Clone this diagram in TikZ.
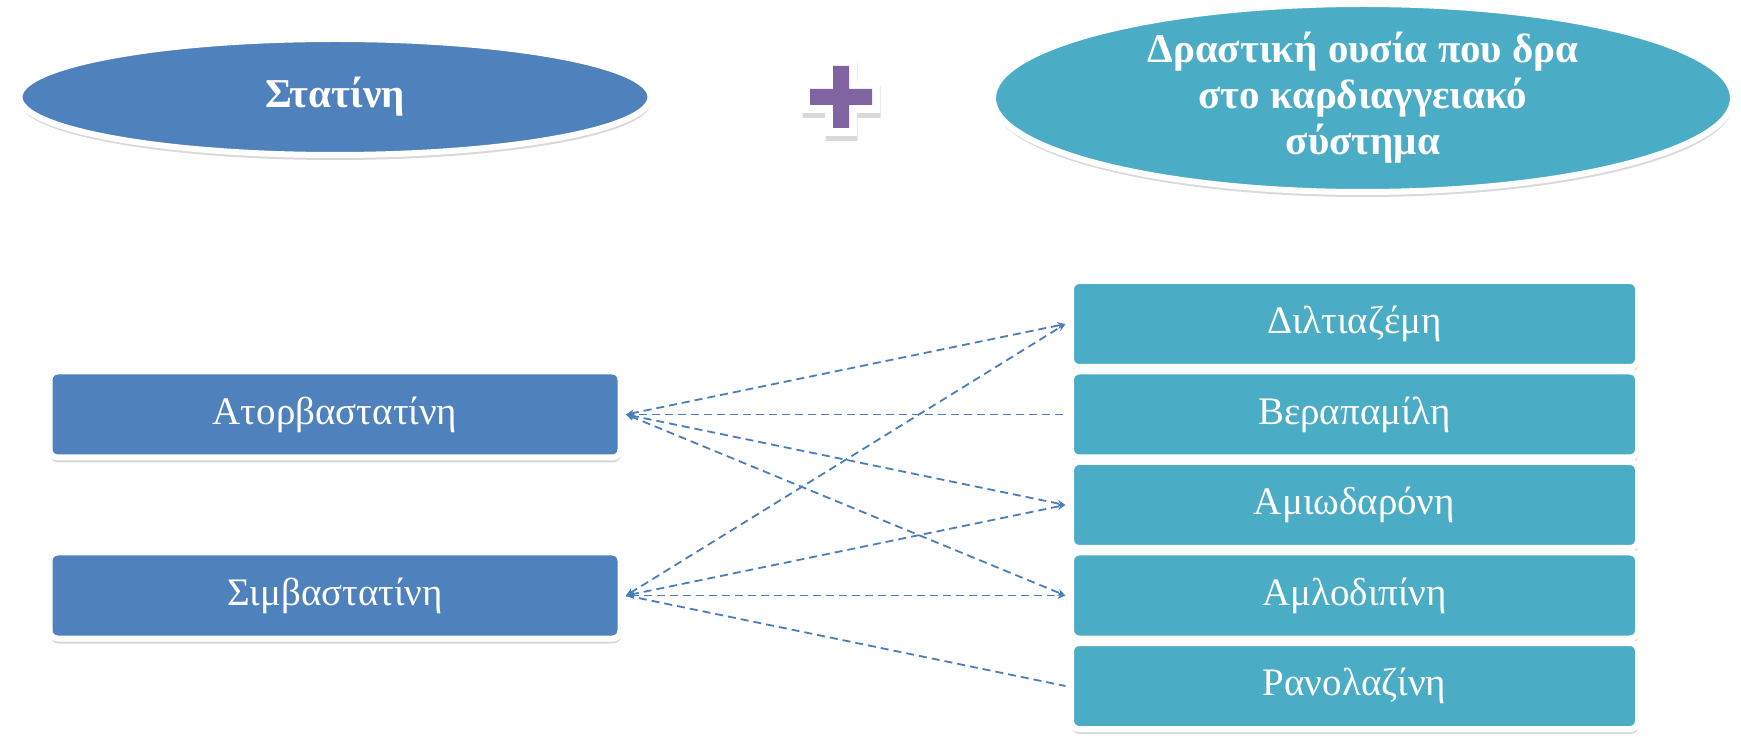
\documentclass[tikz,border=0pt]{standalone}
\usepackage{fontspec}
\setmainfont{Liberation Serif}
\usetikzlibrary{positioning,shapes.geometric,shadows,arrows.meta}
\definecolor{statblue}{HTML}{4F81BD}
\definecolor{drugteal}{HTML}{4BACC6}
\definecolor{plusviolet}{HTML}{8064A2}
\definecolor{linkblue}{HTML}{4A7EBB}

\begin{document}
\begin{tikzpicture}[x=0.5pt, y=-0.5pt, node distance=45.25pt, on grid]
\tikzstyle{every node}=[font=\fontsize{19.5}{23}\selectfont, text=white]
\tikzstyle{soft shadow}=[drop shadow={shadow xshift=0.3pt, shadow yshift=-2.5pt, opacity=0.3}]
\tikzstyle{oval}=[ellipse, draw=white, line width=3pt, inner sep=0pt, align=center, font=\fontsize{20.5}{23}\selectfont\bfseries, soft shadow]
\tikzstyle{box}=[rectangle, rounded corners=4pt, draw=white, line width=3pt, outer sep=2.8pt, minimum height=43pt, soft shadow]
\tikzstyle{link}=[linkblue, dash pattern=on 4pt off 2.5pt, line width=0.9pt, {Stealth[length=4pt,width=3.5pt]}-{Stealth[length=4pt,width=3.5pt]}]
\useasboundingbox (0,0) rectangle (1741,737);
   \node[oval, fill=statblue, minimum width=315.5pt, minimum height=58pt](stat) at (335,97){Στατίνη};
   \node[oval, fill=drugteal, minimum width=370pt, minimum height=94pt](drug) at (1363,98){Δραστική ουσία που δρα\\στο καρδιαγγειακό\\σύστημα};
   % plus sign
   \fill[white, soft shadow] (825,58) rectangle (857,136) (802,81) rectangle (880,113);
   \fill[plusviolet] (833,66) rectangle (849,128) (810,89) rectangle (872,105);
   \node[box, fill=drugteal, minimum width=283.5pt](dil) at (1354.5,324){Διλτιαζέμη};
   \node[box, fill=drugteal, minimum width=283.5pt](ver)[below=of dil]{Βεραπαμίλη};
   \node[box, fill=drugteal, minimum width=283.5pt](ami)[below=of ver]{Αμιωδαρόνη};
   \node[box, fill=drugteal, minimum width=283.5pt](aml)[below=of ami]{Αμλοδιπίνη};
   \node[box, fill=drugteal, minimum width=283.5pt](ran)[below=of aml]{Ρανολαζίνη};
   \node[box, fill=statblue, minimum width=285.5pt](ato)[left=509.75pt of ver]{Ατορβαστατίνη};
   \node[box, fill=statblue, minimum width=285.5pt](sim)[left=509.75pt of aml]{Σιμβαστατίνη};
   \draw[link](ato.east) -- (dil.west);
   \draw[link, -](ato.east) -- (ver.west);
   \draw[link](ato.east) -- (ami.west);
   \draw[link](ato.east) -- (aml.west);
\draw[link](sim.east) -- (dil.west);
\draw[link](sim.east) -- (ami.west);
\draw[link](sim.east) -- (aml.west);
\draw[link, -](sim.east) -- (ran.west);
\end{tikzpicture}
\end{document}
